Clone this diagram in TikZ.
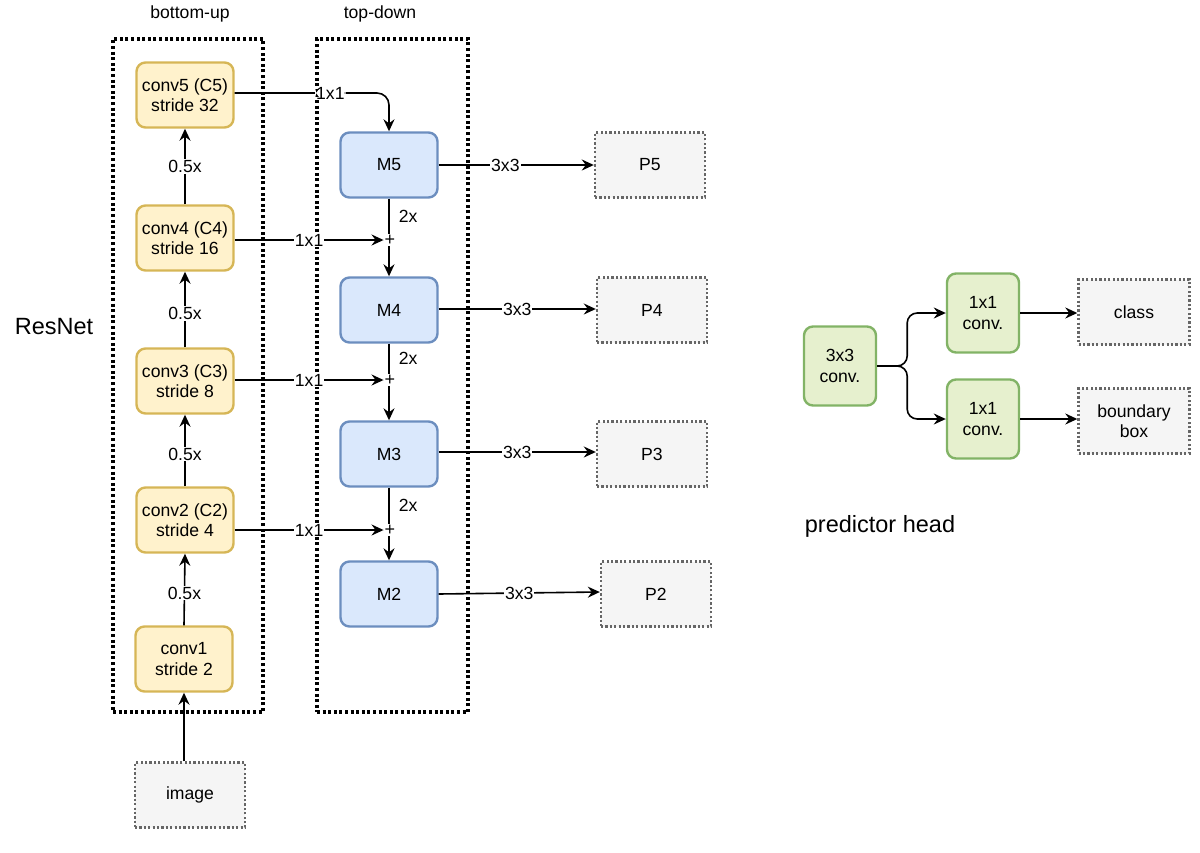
\documentclass[tikz,border=0pt]{standalone}
\usepackage{fontspec}
\setmainfont{Liberation Sans}
\usetikzlibrary{arrows.meta}
\definecolor{yfill}{HTML}{FFF2CC}
\definecolor{ystroke}{HTML}{D6B656}
\definecolor{bfill}{HTML}{DAE8FC}
\definecolor{bstroke}{HTML}{6C8EBF}
\definecolor{gfill}{RGB}{230,240,206}
\definecolor{gstroke}{HTML}{82B366}
\definecolor{pfill}{HTML}{F5F5F5}
\definecolor{pstroke}{HTML}{666666}
\begin{document}
\begin{tikzpicture}[x=1pt,y=-1pt,
 txt/.style={font=\fontsize{17.6}{20.5}\selectfont, align=center, text=black},
 base/.style={txt, rounded corners=9pt, line width=2.4pt, inner sep=0pt, minimum width=97pt, minimum height=65pt},
 ybox/.style={base, draw=ystroke, fill=yfill},
 bbox/.style={base, draw=bstroke, fill=bfill},
 gbox/.style={base, draw=gstroke, fill=gfill, minimum width=72pt, minimum height=79pt},
 pbox/.style={txt, draw=pstroke, fill=pfill, line width=2.4pt, dash pattern=on 2.2pt off 2.2pt, minimum width=110pt, minimum height=65pt, inner sep=0pt},
 group/.style={draw=black, line width=3.2pt, dash pattern=on 3pt off 2.6pt, inner sep=0pt},
 arr/.style={line width=1.6pt, -{Stealth[length=12pt,width=11pt,inset=4pt]}},
 ln/.style={line width=1.6pt},
 elab/.style={txt, fill=white, inner sep=1pt},
 sidelab/.style={txt, anchor=west, inner sep=0pt, xshift=9pt},
 plus/.style={font=\fontsize{18}{18}\selectfont, inner sep=1pt, text=black},
]
\useasboundingbox (0,0) rectangle (1200,852);

% group boxes
\node[group, minimum width=150pt, minimum height=673pt] (bu) at (188,375.5) {};
\node[group, minimum width=151pt, minimum height=673pt] (td) at (392.5,375.5) {};
\node[txt] (tbu) at (190,14) {bottom-up};
\node[txt] (ttd) at (380,14) {top-down};
\node[font=\fontsize{23.5}{28}\selectfont] (resnet) at (54,327) {ResNet};
\node[font=\fontsize{23.5}{28}\selectfont] (phead) at (880,526) {predictor head};

% bottom-up
\node[ybox] (c5) at (185,95) {conv5 (C5)\\stride 32};
\node[ybox] (c4) at (185,238) {conv4 (C4)\\stride 16};
\node[ybox] (c3) at (185,381) {conv3 (C3)\\stride 8};
\node[ybox] (c2) at (185,520) {conv2 (C2)\\stride 4};
\node[ybox] (c1) at (184,659) {conv1\\stride 2};
\node[pbox] (img) at (190,795) {image};

% top-down
\node[bbox] (m5) at (389,165) {M5};
\node[bbox] (m4) at (389,310) {M4};
\node[bbox] (m3) at (389,454) {M3};
\node[bbox] (m2) at (389,594) {M2};
\node[plus] (p4s) at (390,240) {+};
\node[plus] (p3s) at (390,380) {+};
\node[plus] (p2s) at (390,530) {+};

% outputs
\node[pbox] (p5) at (650,165) {P5};
\node[pbox] (p4) at (652,310) {P4};
\node[pbox] (p3) at (652,454) {P3};
\node[pbox] (p2) at (656,594) {P2};

% predictor head
\node[gbox] (h3) at (840,366) {3x3\\conv.};
\node[gbox] (h1a) at (983,313) {1x1\\conv.};
\node[gbox] (h1b) at (983,419) {1x1\\conv.};
\node[pbox, minimum width=111pt] (cls) at (1134,312) {class};
\node[pbox, minimum width=111pt] (bb) at (1134,421) {boundary\\box};

% bottom-up edges
\draw[arr] (img.north -| c1) -- (c1.south);
\draw[arr] (c1.north) -- node[elab, pos=0.45] {0.5x} (c2.south);
\draw[arr] (c2.north) -- node[elab, pos=0.45] {0.5x} (c3.south);
\draw[arr] (c3.north) -- node[elab, pos=0.45] {0.5x} (c4.south);
\draw[arr] (c4.north) -- node[elab, pos=0.5] {0.5x} (c5.south);

% lateral edges
\draw[arr, rounded corners=12pt] ([yshift=2pt]c5.east) -| node[elab, pos=0.31] {1x1} (m5.north);
\draw[arr] (c4.east |- p4s) -- node[elab] {1x1} (p4s.west);
\draw[arr] (c3.east |- p3s) -- node[elab] {1x1} (p3s.west);
\draw[arr] (c2.east |- p2s) -- node[elab] {1x1} (p2s.west);

% top-down edges
\draw[ln] (m5.south) -- node[sidelab] {2x} (m5.south |- p4s.north);
\draw[arr] (m4.north |- p4s.south) -- (m4.north);
\draw[ln] (m4.south) -- node[sidelab] {2x} (m4.south |- p3s.north);
\draw[arr] (m3.north |- p3s.south) -- (m3.north);
\draw[ln] (m3.south) -- node[sidelab] {2x} (m3.south |- p2s.north);
\draw[arr] (m2.north |- p2s.south) -- (m2.north);

% 3x3 edges
\draw[arr] (m5.east) -- node[elab, pos=0.43] {3x3} (p5.west);
\draw[arr] ([yshift=1pt]m4.east) -- node[elab] {3x3} ([yshift=1pt]p4.west);
\draw[arr] ([yshift=2pt]m3.east) -- node[elab] {3x3} ([yshift=2pt]p3.west);
\draw[arr] (m2.east) -- node[elab] {3x3} ([yshift=2pt]p2.west);

% predictor edges
\draw[arr, rounded corners=10pt] (h3.east) -- ++(30,0) |- (h1a.west);
\draw[arr, rounded corners=10pt] (h3.east) -- ++(30,0) |- (h1b.west);
\draw[arr] (h1a.east) -- (h1a.east -| cls.west);
\draw[arr] (h1b.east) -- (h1b.east -| bb.west);
\end{tikzpicture}
\end{document}
